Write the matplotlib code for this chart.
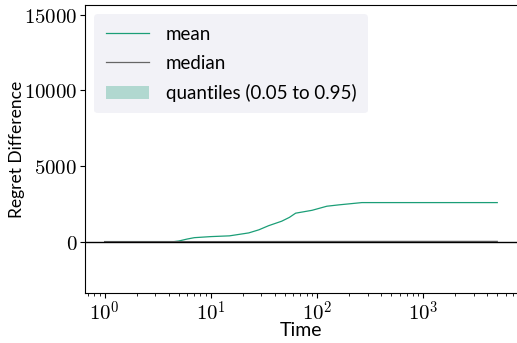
import numpy as np
import matplotlib
matplotlib.use("Agg")
import matplotlib.pyplot as plt
from matplotlib.ticker import FuncFormatter, FixedLocator

plt.rcParams['mathtext.fontset'] = 'cm'
plt.rcParams['font.family'] = ['Lato', 'DejaVu Sans']

# mean regret difference (time, value)
t_mean = [1, 2, 4, 4.5, 5, 6, 7, 10, 15, 22.8, 28.4, 35, 46.6, 55, 63, 90, 124, 161, 265, 1000, 5000]
mean_vals = [0, 0, 0, 0, 40, 170, 260, 330, 380, 575, 780, 1050, 1350, 1600, 1880, 2070, 2340, 2430, 2580, 2580, 2580]
t_median = [1, 10, 100, 1000, 5000]
median_vals = [0, 0, 10, 15, 15]
q_low = [0, 0, 0, 0, 0]
q_high = [0, 0, 0, 0, 0]

green = '#1b9e77'
gray = '#666666'

fig = plt.figure(figsize=(5.17, 3.43), dpi=100)
ax = fig.add_axes([85 / 517, 50 / 343, 432 / 517, 288 / 343])

ax.fill_between(t_median, q_low, q_high, color=green, alpha=0.3, lw=0, label='quantiles (0.05 to 0.95)')
ax.plot(t_mean, mean_vals, color=green, lw=0.9, label='mean')
ax.plot(t_median, median_vals, color=gray, lw=0.9, label='median')
ax.axhline(0, color='black', lw=1.0)

ax.set_xscale('log')
ax.set_xlim(10 ** -0.185, 10 ** 3.885)
ax.set_ylim(-3400, 15650)
ax.xaxis.set_major_formatter(FuncFormatter(lambda v, p: r'$10^{%d}$' % round(np.log10(v))))
ax.yaxis.set_major_locator(FixedLocator([0, 5000, 10000, 15000]))
ax.yaxis.set_major_formatter(FuncFormatter(lambda v, p: r'$%d$' % v))
ax.tick_params(labelsize=15, pad=2)
ax.spines['right'].set_visible(False)

ax.set_xlabel('Time', fontsize=14, labelpad=-2)
ax.set_ylabel('Regret Difference', fontsize=12.5, labelpad=-1)

h, l = ax.get_legend_handles_labels()
order = [1, 2, 0]
leg = ax.legend([h[i] for i in order], [l[i] for i in order], loc='upper left',
                fontsize=13.5, frameon=True, facecolor='#eaeaf2', edgecolor='none',
                framealpha=0.6, handlelength=2.3, handletextpad=0.9,
                borderpad=0.6, labelspacing=0.65)

fig.savefig('out.png', dpi=100)
